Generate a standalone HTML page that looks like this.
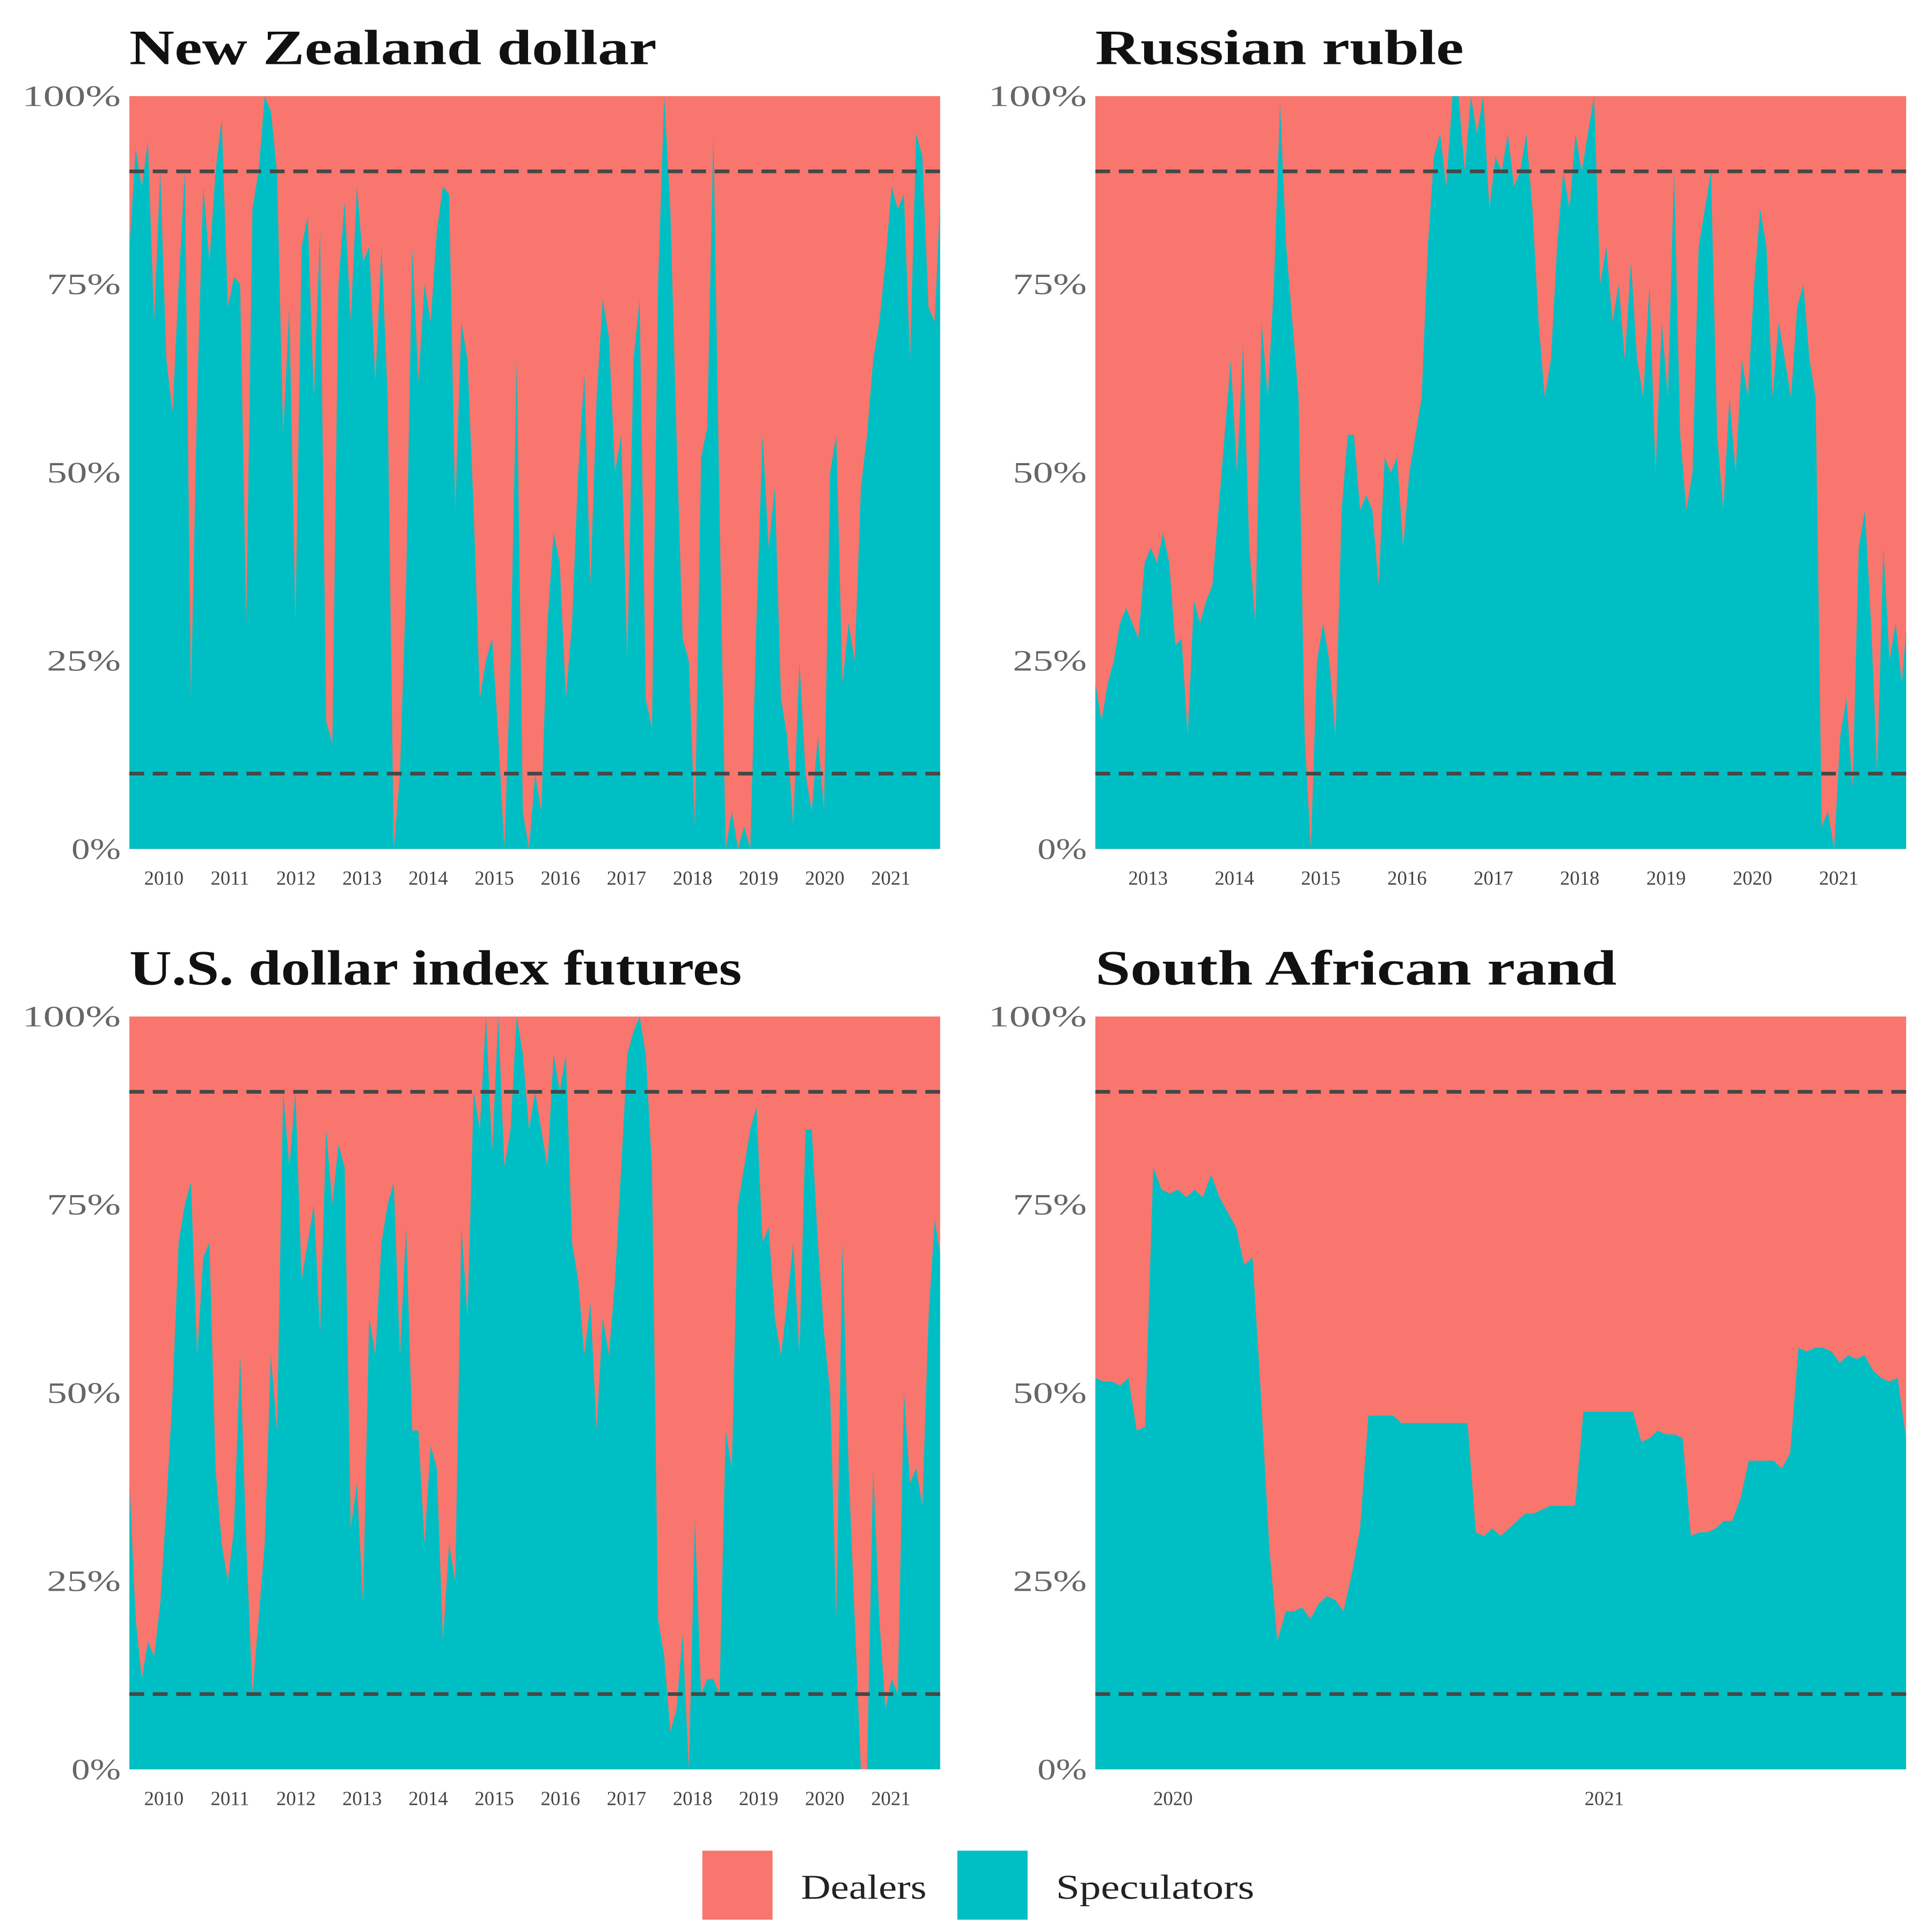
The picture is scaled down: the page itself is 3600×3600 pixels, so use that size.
<!DOCTYPE html>
<html><head><meta charset="utf-8"><style>
html,body{margin:0;padding:0;background:#fff}
svg{display:block}
text{font-family:"Liberation Serif",serif}
</style></head><body>
<svg id="chart" width="3600" height="3600" viewBox="0 0 1568 1568" xmlns="http://www.w3.org/2000/svg">
<g id="legend">
<rect x="570" y="1502" width="57" height="56" fill="#F8766D"/>
<text x="650" y="1541" font-size="28" fill="#222" textLength="102" lengthAdjust="spacingAndGlyphs">Dealers</text>
<rect x="777" y="1502" width="57" height="56" fill="#00BFC4"/>
<text x="857" y="1541" font-size="28" fill="#222" textLength="161" lengthAdjust="spacingAndGlyphs">Speculators</text>
</g>
</svg>
<script>
const yTicks = [0, 25, 50, 75, 100];
const yTickLabels = ["0%", "25%", "50%", "75%", "100%"];
const bands = [10, 90];

const nzdTitle = "New Zealand dollar";
const nzdStart = 2009.48, nzdStep = 0.093;
const nzdValues = [80,93,88,94,70,90,65,58,75,90,20,60,88,78,90,97,72,76,75,30,85,90,100,98,90,55,72,30,80,84,60,82,17,14,75,86,70,88,78,80,62,80,60,0,10,35,80,62,75,70,82,88,87,45,70,65,45,20,25,28,15,0,25,65,5,0,10,5,30,42,38,20,30,50,63,35,60,73,68,50,55,25,65,73,20,16,75,100,85,55,28,25,3,52,56,95,45,0,5,0,3,0,30,55,40,48,20,15,3,25,10,5,15,5,50,55,22,30,25,48,55,65,70,78,88,85,87,65,95,92,72,70,88];
const nzdYears = [2010,2011,2012,2013,2014,2015,2016,2017,2018,2019,2020,2021];
const nzdRange = [2009.478, 2021.746];

const rubTitle = "Russian ruble";
const rubStart = 2012.39, rubStep = 0.0713;
const rubValues = [22,17,22,25,30,32,30,28,38,40,38,42,38,27,28,15,33,30,33,35,45,55,65,50,67,40,30,70,60,75,99,80,70,60,15,0,25,30,25,15,45,55,55,45,47,45,35,52,50,52,40,50,55,60,80,92,95,88,100,100,90,100,95,100,85,92,90,95,88,90,95,85,70,60,65,80,90,85,95,90,95,100,75,80,70,75,65,78,65,60,75,50,70,60,90,55,45,50,80,85,90,55,45,60,50,65,60,75,85,80,60,70,65,60,72,75,65,60,3,5,0,15,20,8,40,45,30,10,40,25,30,22,32];
const rubYears = [2013,2014,2015,2016,2017,2018,2019,2020,2021];
const rubRange = [2012.39, 2021.78];

const usdTitle = "U.S. dollar index futures";
const usdStart = 2009.48, usdStep = 0.093;
const usdValues = [38,20,12,17,15,22,35,50,70,75,78,55,68,70,40,30,25,32,55,30,10,20,30,55,45,90,80,90,65,70,75,58,85,75,83,80,32,38,22,60,55,70,75,78,55,72,45,45,30,43,40,17,30,25,72,60,90,85,100,82,100,80,85,100,95,85,90,85,80,95,90,95,70,65,55,62,45,60,55,65,80,95,98,100,95,80,20,15,5,8,18,0,33,10,12,12,10,45,40,75,80,85,88,70,72,60,55,62,70,55,85,85,70,58,50,20,70,40,20,0,0,40,20,8,12,10,50,38,40,35,60,73,68];
const usdYears = [2010,2011,2012,2013,2014,2015,2016,2017,2018,2019,2020,2021];
const usdRange = [2009.478, 2021.746];

const zarTitle = "South African rand";
const zarStart = 2019.82, zarStep = 0.01918;
const zarValues = [52,51.5,51.5,51,52,45,45.5,80,77,76.5,77,76,77,76,79,76,74,72,67,68,50,30,17,21,21,21.5,20,22,23,22.5,21,26,32,47,47,47,47,46,46,46,46,46,46,46,46,46,31.5,31,32,31,32,33,34,34,34.5,35,35,35,35,47.5,47.5,47.5,47.5,47.5,47.5,47.5,43.5,44,45,44.5,44.5,44,31,31.5,31.5,32,33,33,36,41,41,41,41,40,42,56,55.5,56,56,55.5,54,55,54.5,55,53,52,51.5,52,44];
const zarYears = [2020, 2021];
const zarRange = [2019.82, 2021.70];

const NS = "http://www.w3.org/2000/svg";
const svg = document.getElementById('chart');
function mk(tag, attrs, parent) {
  const e = document.createElementNS(NS, tag);
  for (const k in attrs) e.setAttribute(k, attrs[k]);
  parent.appendChild(e);
  return e;
}

function panel(id, title, titleWidth, start, step, values, years, range, box) {
  const [x0, x1, y0, y1] = box;
  const xs = t => x0 + (t - range[0]) / (range[1] - range[0]) * (x1 - x0);
  const ys = v => y1 - v / 100 * (y1 - y0);
  const g = mk('g', {}, svg);
  
  
  const cp = mk('clipPath', {id: id + '-clip'}, g);
  mk('rect', {x: x0, y: y0, width: x1 - x0, height: y1 - y0}, cp);
  const dealers = mk('rect', {x: x0, y: y0, width: x1 - x0, height: y1 - y0, fill: '#F8766D'}, g);
  
  
  let d = 'M' + xs(start) + ',' + ys(0);
  values.forEach((v, i) => { d += ' L' + xs(start + i * step).toFixed(2) + ',' + ys(v).toFixed(2); });
  d += ' L' + xs(start + (values.length - 1) * step).toFixed(2) + ',' + ys(0) + ' Z';
  const spec = mk('path', {d: d, fill: '#00BFC4', 'clip-path': 'url(#' + id + '-clip)'}, g);
  
  
  bands.forEach(b => {
    const l = mk('line', {x1: x0, x2: x1, y1: ys(b), y2: ys(b), stroke: '#474747', 'stroke-width': 3, 'stroke-dasharray': '12,7'}, g);
    
    
  });
  yTicks.forEach((t, i) => {
    const lab = yTickLabels[i];
    const tx = mk('text', {x: x0 - 7, y: ys(t) + 8, 'font-size': 24, fill: '#666', 'text-anchor': 'end', textLength: lab.length * 20, lengthAdjust: 'spacingAndGlyphs'}, g);
    tx.textContent = lab;
    
    
  });
  years.forEach(yr => {
    const tx = mk('text', {x: xs(yr), y: y1 + 29, 'font-size': 16, fill: '#444', 'text-anchor': 'middle'}, g);
    tx.textContent = String(yr);
    
    
  });
  const tt = mk('text', {x: x0, y: y0 - 26, 'font-size': 40, 'font-weight': 'bold', fill: '#111', textLength: titleWidth, lengthAdjust: 'spacingAndGlyphs'}, g);
  tt.textContent = title;
  
  
}

panel('nzd', nzdTitle, 428, nzdStart, nzdStep, nzdValues, nzdYears, nzdRange, [105, 763, 78, 689]);
panel('rub', rubTitle, 299, rubStart, rubStep, rubValues, rubYears, rubRange, [889, 1547, 78, 689]);
panel('usd', usdTitle, 497, usdStart, usdStep, usdValues, usdYears, usdRange, [105, 763, 825, 1436]);
panel('zar', zarTitle, 423, zarStart, zarStep, zarValues, zarYears, zarRange, [889, 1547, 825, 1436]);
</script>
</body></html>
